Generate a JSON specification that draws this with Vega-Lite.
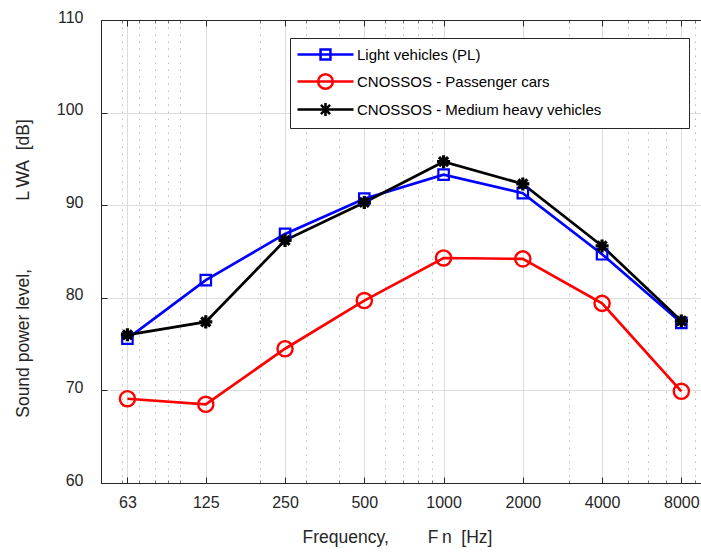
{
  "$schema": "https://vega.github.io/schema/vega-lite/v6.json",
  "width": 600,
  "height": 463,
  "autosize": "none",
  "padding": {"left": 101, "top": 20, "right": 0, "bottom": 71},
  "background": "white",
  "config": {
    "view": {"stroke": null},
    "font": "Liberation Sans",
    "axis": {
      "domainColor": "#262626",
      "domainWidth": 1,
      "tickColor": "#262626",
      "labelColor": "#262626",
      "titleColor": "#262626",
      "labelFont": "Liberation Sans",
      "titleFont": "Liberation Sans",
      "labelFontSize": 16,
      "titleFontSize": 17.5,
      "titleFontWeight": "normal"
    },
    "legend": {
      "orient": "none",
      "legendX": 189,
      "legendY": 18,
      "padding": 7,
      "strokeColor": "#262626",
      "fillColor": "white",
      "labelFontSize": 15,
      "labelLimit": 400,
      "labelColor": "#000000",
      "labelFont": "Liberation Sans",
      "symbolSize": 256,
      "symbolStrokeWidth": 2.5,
      "symbolOffset": 19,
      "labelOffset": 22,
      "rowPadding": 4,
      "titleOrient": "right",
      "titleFontSize": 11,
      "titlePadding": 81
    }
  },
  "datasets": {
    "spectra": [
      {"series": "Light vehicles (PL)", "freq": 63, "level": 75.6},
      {"series": "Light vehicles (PL)", "freq": 125, "level": 81.9},
      {"series": "Light vehicles (PL)", "freq": 250, "level": 86.9},
      {"series": "Light vehicles (PL)", "freq": 500, "level": 90.7},
      {"series": "Light vehicles (PL)", "freq": 1000, "level": 93.3},
      {"series": "Light vehicles (PL)", "freq": 2000, "level": 91.3},
      {"series": "Light vehicles (PL)", "freq": 4000, "level": 84.7},
      {"series": "Light vehicles (PL)", "freq": 8000, "level": 77.3},
      {"series": "CNOSSOS - Passenger cars", "freq": 63, "level": 69.1},
      {"series": "CNOSSOS - Passenger cars", "freq": 125, "level": 68.5},
      {"series": "CNOSSOS - Passenger cars", "freq": 250, "level": 74.5},
      {"series": "CNOSSOS - Passenger cars", "freq": 500, "level": 79.7},
      {"series": "CNOSSOS - Passenger cars", "freq": 1000, "level": 84.3},
      {"series": "CNOSSOS - Passenger cars", "freq": 2000, "level": 84.2},
      {"series": "CNOSSOS - Passenger cars", "freq": 4000, "level": 79.4},
      {"series": "CNOSSOS - Passenger cars", "freq": 8000, "level": 69.9},
      {"series": "CNOSSOS - Medium heavy vehicles", "freq": 63, "level": 76.0},
      {"series": "CNOSSOS - Medium heavy vehicles", "freq": 125, "level": 77.4},
      {"series": "CNOSSOS - Medium heavy vehicles", "freq": 250, "level": 86.2},
      {"series": "CNOSSOS - Medium heavy vehicles", "freq": 500, "level": 90.3},
      {"series": "CNOSSOS - Medium heavy vehicles", "freq": 1000, "level": 94.7},
      {"series": "CNOSSOS - Medium heavy vehicles", "freq": 2000, "level": 92.3},
      {"series": "CNOSSOS - Medium heavy vehicles", "freq": 4000, "level": 85.6},
      {"series": "CNOSSOS - Medium heavy vehicles", "freq": 8000, "level": 77.5}
    ]
  },
  "data": {"name": "spectra"},
  "resolve": {"axis": {"x": "independent"}},
  "layer": [
    {
      "mark": {"type": "line", "strokeWidth": 2.7, "clip": false},
      "encoding": {
        "x": {
          "field": "freq",
          "type": "quantitative",
          "scale": {"type": "log", "domain": [50, 9500], "nice": false},
          "axis": {
            "orient": "bottom",
            "values": [60, 63, 70, 80, 90, 100, 125, 200, 250, 300, 400, 500, 600, 700, 800, 900, 1000, 2000, 3000, 4000, 5000, 6000, 7000, 8000, 9000],
            "labelExpr": "indexof([63, 125, 250, 500, 1000, 2000, 4000, 8000], datum.value) >= 0 ? '' + datum.value : ''",
            "labelOverlap": false,
            "labelFlush": false,
            "labelBaseline": "alphabetic",
            "labelPadding": 30,
            "grid": true,
            "gridColor": {"condition": {"test": "indexof([63, 125, 250, 500, 1000, 2000, 4000, 8000], datum.value) >= 0", "value": "#dcdcdc"}, "value": "#bdbdbd"},
            "gridDash": {"condition": {"test": "indexof([63, 125, 250, 500, 1000, 2000, 4000, 8000], datum.value) >= 0", "value": []}, "value": [1.5, 5.5]},
            "tickColor": {"condition": {"test": "indexof([63, 125, 250, 500, 1000, 2000, 4000, 8000], datum.value) >= 0", "value": "#262626"}, "value": "#777777"},
            "tickSize": {"condition": {"test": "indexof([63, 125, 250, 500, 1000, 2000, 4000, 8000], datum.value) >= 0", "value": -6}, "value": -3},
            "title": "Frequency,\u00a0\u00a0\u00a0\u00a0\u00a0\u00a0\u00a0\u00a0F\u2009n\u00a0\u00a0[Hz]",
            "titleX": 296,
            "titleY": 59,
            "titleBaseline": "alphabetic"
          }
        },
        "y": {
          "field": "level",
          "type": "quantitative",
          "scale": {"domain": [60, 110], "nice": false, "zero": false},
          "axis": {
            "values": [60, 70, 80, 90, 100, 110],
            "grid": true,
            "gridColor": "#dcdcdc",
            "tickSize": -6,
            "labelPadding": 24,
            "labelOffset": -3,
            "title": "Sound power level,\u00a0\u00a0\u00a0\u00a0\u00a0\u00a0\u00a0\u00a0\u00a0\u00a0\u00a0\u00a0\u00a0\u00a0L\u2009WA\u00a0\u00a0[dB]",
            "titleX": -73,
            "titleY": 248,
            "titleBaseline": "alphabetic"
          }
        },
        "color": {
          "field": "series",
          "type": "nominal",
          "scale": {
            "domain": ["Light vehicles (PL)", "CNOSSOS - Passenger cars", "CNOSSOS - Medium heavy vehicles"],
            "range": ["#0000ff", "#ff0000", "#000000"]
          },
          "legend": {
            "title": "\u00a0",
            "encode": {
              "symbols": {
                "update": {
                  "fill": {"value": "transparent"},
                  "shape": {"signal": "datum.value === 'Light vehicles (PL)' ? 'M-3.5,0H3.5M-0.62,-0.62H0.62V0.62H-0.62Z' : datum.value === 'CNOSSOS - Passenger cars' ? 'M-3.5,0H3.5M0.92,0A0.92,0.92,0,1,1,-0.92,0A0.92,0.92,0,1,1,0.92,0Z' : 'M-3.5,0H3.5M0,-0.8V0.8M-0.57,-0.57L0.57,0.57M-0.57,0.57L0.57,-0.57'"}
                }
              }
            }
          }
        }
      }
    },
    {
      "transform": [{"filter": "datum.series === 'Light vehicles (PL)'"}],
      "mark": {"type": "point", "shape": "square", "size": 110, "filled": false, "stroke": "#0000ff", "strokeWidth": 2.2, "opacity": 1, "clip": false},
      "encoding": {
        "x": {
          "field": "freq",
          "type": "quantitative",
          "axis": {
            "orient": "top",
            "values": [60, 63, 70, 80, 90, 100, 125, 200, 250, 300, 400, 500, 600, 700, 800, 900, 1000, 2000, 3000, 4000, 5000, 6000, 7000, 8000, 9000],
            "labels": false,
            "grid": false,
            "title": null,
            "tickColor": {"condition": {"test": "indexof([63, 125, 250, 500, 1000, 2000, 4000, 8000], datum.value) >= 0", "value": "#262626"}, "value": "#777777"},
            "tickSize": {"condition": {"test": "indexof([63, 125, 250, 500, 1000, 2000, 4000, 8000], datum.value) >= 0", "value": -6}, "value": -3}
          }
        },
        "y": {"field": "level", "type": "quantitative"}
      }
    },
    {
      "transform": [{"filter": "datum.series === 'CNOSSOS - Passenger cars'"}],
      "mark": {"type": "point", "shape": "circle", "size": 230, "filled": false, "stroke": "#ff0000", "strokeWidth": 2.4, "opacity": 1, "clip": false},
      "encoding": {
        "x": {"field": "freq", "type": "quantitative", "axis": null},
        "y": {"field": "level", "type": "quantitative"}
      }
    },
    {
      "transform": [{"filter": "datum.series === 'CNOSSOS - Medium heavy vehicles'"}],
      "mark": {"type": "point", "shape": "M0,-1V1M-1,0H1M-0.7,-0.7L0.7,0.7M-0.7,0.7L0.7,-0.7", "size": 170, "filled": false, "stroke": "#000000", "strokeWidth": 3.2, "opacity": 1, "clip": false},
      "encoding": {
        "x": {"field": "freq", "type": "quantitative", "axis": null},
        "y": {"field": "level", "type": "quantitative"}
      }
    }
  ]
}
